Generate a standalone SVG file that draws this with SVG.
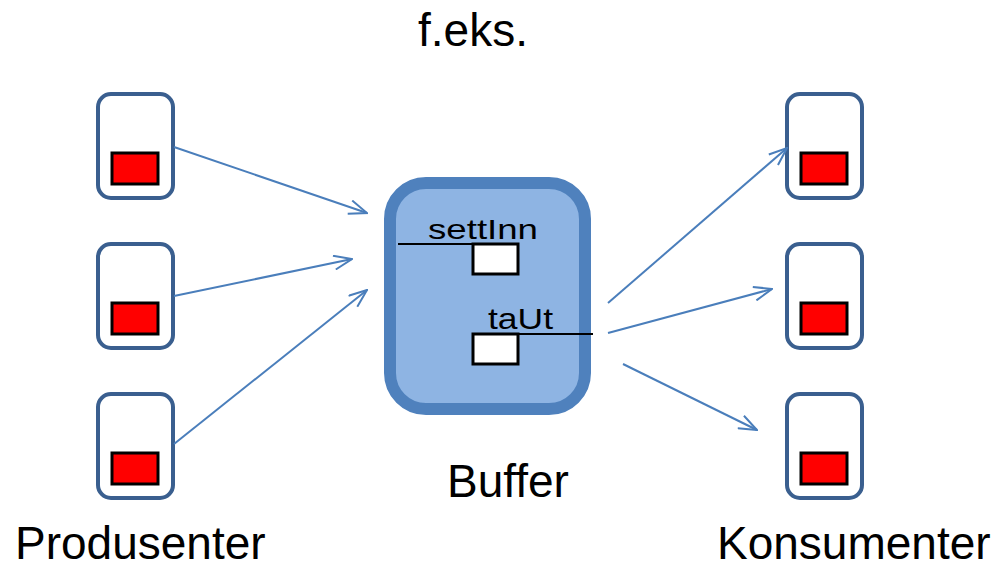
<svg xmlns="http://www.w3.org/2000/svg" width="1003" height="563" viewBox="0 0 1003 563">
<style>
.box{fill:#fff;stroke:#3A5F8F;stroke-width:4}
.red{fill:#FF0000;stroke:#000;stroke-width:3}
.slot{fill:#fff;stroke:#000;stroke-width:3}
.lbl{font-family:"Liberation Sans",Arial,sans-serif;fill:#000}
.conn{stroke:#4A7EBB;stroke-width:2;fill:none;marker-end:url(#arr)}
</style>
<defs>
<marker id="arr" viewBox="0 0 20 16" refX="19" refY="8" markerWidth="20" markerHeight="16" markerUnits="userSpaceOnUse" orient="auto">
<path d="M1,1 L19,8 L1,15" fill="none" stroke="#4A7EBB" stroke-width="2"/>
</marker>
</defs>
<rect width="1003" height="563" fill="#fff"/>
<text class="lbl" x="473" y="46" font-size="46" text-anchor="middle">f.eks.</text>
<g id="p1"><rect class="box" x="98" y="94" width="75" height="104" rx="13"/><rect class="red" x="112" y="153" width="46" height="31"/></g>
<g id="p2"><rect class="box" x="98" y="244" width="75" height="104" rx="13"/><rect class="red" x="112" y="303" width="46" height="31"/></g>
<g id="p3"><rect class="box" x="98" y="394" width="75" height="104" rx="13"/><rect class="red" x="112" y="453" width="46" height="31"/></g>
<g id="c1"><rect class="box" x="787" y="94" width="75" height="104" rx="13"/><rect class="red" x="801" y="153" width="46" height="31"/></g>
<g id="c2"><rect class="box" x="787" y="244" width="75" height="104" rx="13"/><rect class="red" x="801" y="303" width="46" height="31"/></g>
<g id="c3"><rect class="box" x="787" y="394" width="75" height="104" rx="13"/><rect class="red" x="801" y="453" width="46" height="31"/></g>
<g id="buffer">
<rect x="390" y="183" width="195" height="226" rx="36" fill="#8EB4E3" stroke="#4F81BD" stroke-width="12"/>
<text class="lbl" x="428" y="239" font-size="28" textLength="110" lengthAdjust="spacingAndGlyphs">settInn</text>
<line x1="398" y1="244" x2="473" y2="244" stroke="#000" stroke-width="2"/>
<rect class="slot" x="473" y="244" width="45" height="30"/>
<text class="lbl" x="488" y="329" font-size="30" textLength="65" lengthAdjust="spacingAndGlyphs">taUt</text>
<line x1="518" y1="334" x2="593" y2="334" stroke="#000" stroke-width="2"/>
<rect class="slot" x="473" y="334" width="45" height="30"/>
</g>
<g id="connectors">
<line class="conn" x1="174" y1="147" x2="367" y2="213"/>
<line class="conn" x1="174" y1="296" x2="352" y2="259"/>
<line class="conn" x1="174" y1="444" x2="367" y2="290"/>
<line class="conn" x1="608" y1="303" x2="787" y2="148"/>
<line class="conn" x1="608" y1="333" x2="772" y2="289"/>
<line class="conn" x1="623" y1="364" x2="757" y2="430"/>
</g>
<text class="lbl" x="508" y="497" font-size="46" text-anchor="middle">Buffer</text>
<text class="lbl" x="15" y="559" font-size="46">Produsenter</text>
<text class="lbl" x="717" y="559" font-size="46">Konsumenter</text>
</svg>
